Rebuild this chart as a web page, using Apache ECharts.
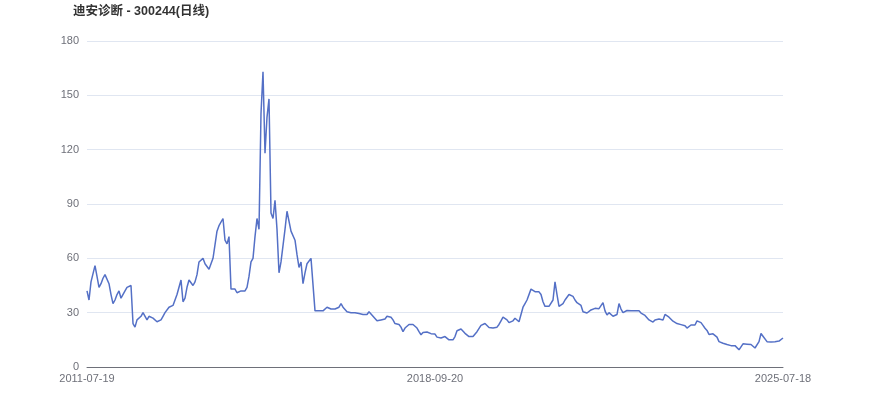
<!DOCTYPE html>
<html>
<head>
<meta charset="utf-8">
<script src="https://cdn.jsdelivr.net/npm/echarts@6/dist/echarts.min.js"></script>
<style>html,body{margin:0;padding:0;background:#fff}#c{width:870px;height:417px}</style>
</head>
<body>
<div id="c"></div>
<script>
var chartTitle = '迪安诊断 - 300244(日线)';
var tickLabels = ['2011-07-19', '2018-09-20', '2025-07-18'];
var yTicks = [0, 30, 60, 90, 120, 150, 180];
var closePrices = [
  42, 37, 47, 46, 56, 50, 44, 46, 49, 51,
  51, 46, 40, 35, 37, 40, 42, 38, 38, 42,
  44, 43, 45, 24, 22, 26, 25, 28, 30, 29,
  26, 28, 27, 27, 26, 25, 25, 26, 28, 30,
  31, 33, 33, 34, 37, 40, 44, 48, 36, 38,
  44, 48, 47, 45, 47, 51, 58, 59, 60, 57,
  57, 54, 57, 60, 61, 75, 78, 78, 82, 70,
  68, 72, 43, 42, 43, 41, 41, 42, 41, 42,
  44, 50, 58, 60, 72, 82, 76, 140, 163, 118,
  138, 148, 85, 82, 92, 76, 52, 58, 67, 76,
  86, 86, 75, 76, 70, 62, 55, 58, 46, 52,
  57, 58, 60, 59, 31, 30.5, 31, 32, 31, 32,
  33, 32, 32, 33, 32, 32, 33, 35, 33, 32,
  30.5, 30, 30, 30, 30, 30, 29.5, 28.5, 29, 29.5,
  29, 30.5, 30, 28, 27.5, 25.5, 25, 26, 27, 26.5,
  28, 28, 27.5, 26, 24, 23.5, 23.5, 22, 19.5, 21.5,
  22.5, 23.5, 24, 23.5, 23, 21.5, 19.5, 17.8, 19, 18.6,
  19.3, 18.5, 18.4, 18.2, 18.2, 16.5, 16, 16, 16.5, 16.8,
  15.8, 15, 15, 15, 16.8, 20, 21, 21, 20, 18.6,
  18.6, 16.8, 15.8, 16.8, 17.7, 19.5, 20.5, 23, 22.5, 24,
  25, 21.8, 22.5, 21.5, 21.4, 22, 23.5, 25.5, 27.5, 27,
  26, 24.5, 23.8, 25.5, 26.9, 26, 25, 29, 33, 35,
  37, 38, 43, 43, 41.6, 40.7, 41.5, 40, 36, 33.5,
  34.5, 33.5, 33.5, 37, 47, 40, 33.5, 33, 35, 37,
  38, 40, 40.5, 39, 37, 35.5, 35, 34, 30.5, 29.6,
  29.8, 29.6, 31.5, 32.2, 32.4, 32, 32.2, 33, 35.5, 31,
  28.7, 30, 29.5, 28, 27.5, 29, 35, 32, 30, 31,
  31.2, 31.5, 31, 31.5, 31, 30.5, 31, 29.8, 30, 28.5,
  27.4, 26, 25, 24.8, 26, 26.9, 26.5, 26, 26, 29,
  28, 27.5, 26.5, 25.3, 25.6, 24, 24.3, 23.4, 22.5, 22.8,
  21.5, 22.5, 23.2, 23, 23.2, 25.5, 26.2, 24.5, 23, 21.4,
  20.2, 18, 18.6, 18.3, 18.6, 16.5, 14, 13.2, 13.1, 12.9,
  12.4, 12.1, 11.8, 11.8, 11.8, 11.5, 9.5, 9, 12.8, 13.1,
  12.6, 12.9, 12.4, 12, 10.5, 10.2, 14, 18.5, 17, 17.5,
  14, 13.6, 13.8, 13.9, 14, 13.6, 14.3, 14.5, 16
];

var n = closePrices.length;
var mid = (n - 1) / 2;
var categories = closePrices.map(function (v, i) { return String(i); });

var chart = echarts.init(document.getElementById('c'), null, { renderer: 'canvas' });
chart.setOption({
  animation: false,
  backgroundColor: '#ffffff',
  title: {
    text: chartTitle,
    left: 68,
    top: 0,
    textStyle: { fontSize: 12.5, fontWeight: 'bold', color: '#333333', fontFamily: 'Liberation Sans, "Noto Sans CJK SC", sans-serif' }
  },
  grid: { left: 87, right: 87, top: 41, bottom: 50, containLabel: false },
  xAxis: {
    type: 'category',
    data: categories,
    boundaryGap: false,
    axisLine: { lineStyle: { color: '#6E7079' } },
    axisTick: { show: false },
    axisLabel: {
      interval: mid - 1,
      showMinLabel: true,
      showMaxLabel: true,
      color: '#6E7079',
      fontSize: 11,
      fontFamily: 'Liberation Sans, sans-serif',
      margin: 6,
      formatter: function (v, i) {
        if (i === 0) return tickLabels[0];
        if (i === mid) return tickLabels[1];
        if (i === n - 1) return tickLabels[2];
        return '';
      }
    },
    splitLine: { show: false }
  },
  yAxis: {
    type: 'value',
    min: yTicks[0],
    max: yTicks[yTicks.length - 1],
    interval: yTicks[1] - yTicks[0],
    axisLine: { show: false },
    axisTick: { show: false },
    axisLabel: { color: '#6E7079', fontSize: 11, fontFamily: 'Liberation Sans, sans-serif', margin: 8 },
    splitLine: { lineStyle: { color: '#E0E6F1' } }
  },
  series: [{
    type: 'line',
    data: closePrices,
    showSymbol: false,
    symbol: 'none',
    lineStyle: { color: '#5470C6', width: 1.5 },
    itemStyle: { color: '#5470C6' }
  }]
});
</script>
</body>
</html>
